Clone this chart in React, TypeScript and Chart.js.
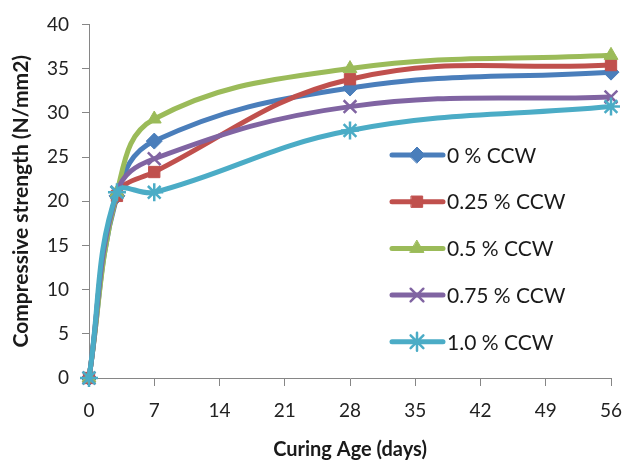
import React, { useEffect, useRef } from "react";
import { Chart, registerables } from "chart.js";
import { drawPoint } from "chart.js/helpers";

Chart.register(...registerables);

const days = [0, 3, 7, 28, 56];
const seriesNames = ["0 % CCW", "0.25 % CCW", "0.5 % CCW", "0.75 % CCW", "1.0 % CCW"];
const ccw0 = [0, 20.6, 26.8, 32.8, 34.6];
const ccw025 = [0, 20.6, 23.3, 33.8, 35.4];
const ccw05 = [0, 21.0, 29.3, 35.0, 36.5];
const ccw075 = [0, 21.0, 24.8, 30.7, 31.8];
const ccw10 = [0, 21.0, 21.0, 28.0, 30.7];
const xTicks = [0, 7, 14, 21, 28, 35, 42, 49, 56];

const colors = ["#4A7EBB", "#C0504D", "#9BBB59", "#8064A2", "#4BACC6"];
const markers = ["rectRot", "rect", "triangle", "crossRot", "star"];
const values = [ccw0, ccw025, ccw05, ccw075, ccw10];

const FONT = "Lato, 'Open Sans', sans-serif";

const legendPlugin = {
  id: "insideLegend",
  afterDraw(chart: any) {
    const ctx = chart.ctx;
    const x0 = 392;
    const yStart = 155;
    const gap = 46.7;
    ctx.save();
    chart.data.datasets.forEach((ds: any, i: number) => {
      const y = yStart + i * gap;
      ctx.strokeStyle = ds.borderColor;
      ctx.lineWidth = 5;
      ctx.lineCap = "round";
      ctx.beginPath();
      ctx.moveTo(x0, y);
      ctx.lineTo(x0 + 51, y);
      ctx.stroke();
      ctx.fillStyle = ds.backgroundColor;
      ctx.strokeStyle = ds.borderColor;
      ctx.lineWidth = ds.pointBorderWidth || 1;
      drawPoint(ctx, { pointStyle: ds.pointStyle, radius: ds.pointRadius, borderWidth: ds.pointBorderWidth, rotation: 0 }, x0 + 25, y);
      ctx.fillStyle = "#1a1a1a";
      ctx.font = `21px ${FONT}`;
      ctx.textBaseline = "middle";
      ctx.textAlign = "left";
      ctx.fillText(ds.label, x0 + 55, y + 1);
    });
    ctx.restore();
  },
};

export default function App() {
  const ref = useRef<HTMLCanvasElement>(null);
  useEffect(() => {
    document.body.style.margin = "0";
    const chart = new Chart(ref.current!, {
      type: "line",
      data: {
        datasets: seriesNames.map((name, i) => ({
          label: name,
          data: days.map((d, j) => ({ x: d, y: values[i][j] })),
          order: seriesNames.length - 1 - i,
          borderColor: colors[i],
          backgroundColor: colors[i],
          borderWidth: 5,
          tension: 0.4,
          clip: false as any,
          pointStyle: markers[i] as any,
          pointRadius: i === 3 || i === 4 ? 9 : 8,
          pointBorderWidth: i === 3 || i === 4 ? 2.5 : 1,
          pointBorderColor: colors[i],
          pointBackgroundColor: colors[i],
        })),
      },
      options: {
        animation: false,
        responsive: false,
        layout: { padding: { left: 0, right: 13, top: 22, bottom: 0 } },
        plugins: { legend: { display: false }, tooltip: { enabled: false } },
        scales: {
          x: {
            type: "linear",
            min: 0,
            max: 56,
            afterBuildTicks: (s: any) => { s.ticks = xTicks.map((v) => ({ value: v })); },
            afterFit: (s: any) => { s.paddingRight = 0; s.paddingLeft = 0; s.height = 84; },
            ticks: { color: "#222", font: { family: FONT, size: 19 }, padding: 13 },
            grid: { display: true, drawOnChartArea: false, drawTicks: true, tickLength: 8, color: "#868686" },
            border: { color: "#868686", width: 1 },
            title: { display: true, text: "Curing Age (days)", color: "#1a1a1a", font: { family: FONT, size: 20, weight: "bold" }, padding: { top: 0, bottom: 0 } },
          },
          y: {
            min: 0,
            max: 40,
            afterFit: (s: any) => { s.width = 89; },
            ticks: { stepSize: 5, color: "#222", font: { family: FONT, size: 19 }, padding: 13 },
            grid: { display: true, drawOnChartArea: false, drawTicks: true, tickLength: 7, color: "#868686" },
            border: { color: "#868686", width: 1 },
            title: { display: true, text: "Compressive strength (N/mm2)", color: "#1a1a1a", font: { family: FONT, size: 21, weight: "bold" }, padding: { top: 9, bottom: 0 } },
          },
        },
      },
      plugins: [legendPlugin],
    });
    return () => chart.destroy();
  }, []);
  return (
    <div style={{ width: 624, height: 462, background: "#fff" }}>
      <canvas ref={ref} width={624} height={462} />
    </div>
  );
}
